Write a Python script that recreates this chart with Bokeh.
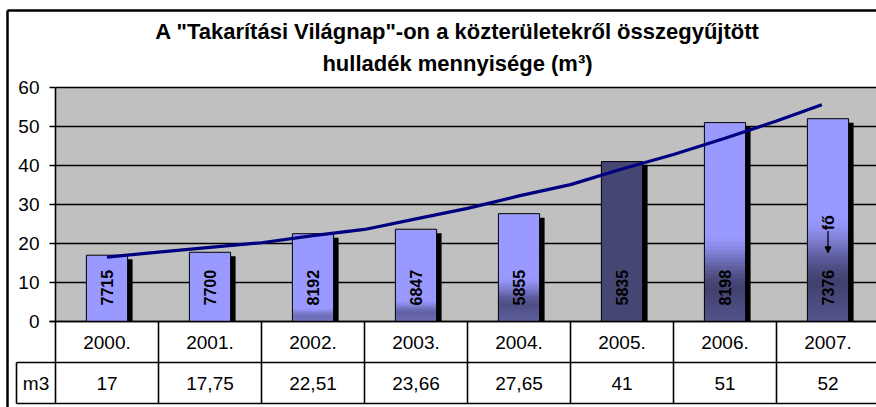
import numpy as np
from bokeh.plotting import figure
from bokeh.models import Range1d, Arrow, NormalHead
from bokeh.embed import file_html
from bokeh.resources import INLINE
from bokeh.core.properties import value

# ---------------- data ----------------
title_lines = ['A "Takarítási Világnap"-on a közterületekről összegyűjtött',
               'hulladék mennyisége (m³)']
years = ["2000.", "2001.", "2002.", "2003.", "2004.", "2005.", "2006.", "2007."]
m3 = [17, 17.75, 22.51, 23.66, 27.65, 41, 51, 52]
m3_labels = ["17", "17,75", "22,51", "23,66", "27,65", "41", "51", "52"]
people = ["7715", "7700", "8192", "6847", "5855", "5835", "8198", "7376"]
row_label = "m3"
y_ticks = [0, 10, 20, 30, 40, 50, 60]
y_tick_labels = ["0", "10", "20", "30", "40", "50", "60"]
# trend line (category index, m3)
trend_x = [0, 0.5, 1, 1.5, 2, 2.5, 3, 3.5, 4, 4.5, 5, 5.5, 6, 6.5, 6.94]
trend_y = [16.5, 17.8, 19.0, 20.2, 22.0, 23.6, 26.3, 29.0, 32.2, 35.1, 39.1, 42.8, 47.0, 51.4, 55.6]
note_text = "fő"
note_cat = 7
note_arrow_from = 23.2
note_arrow_to = 17.6

# ---------------- styles ----------------
W, H = 876, 407
OX, OY = 55, 321          # pixel position of (0, 0) of the chart area
PXX = 1 / 103.0           # category units per pixel
PXY = 1 / 3.9             # value units per pixel
x0 = -OX * PXX
x1 = (W - OX) * PXX
y0 = -(H - OY) * PXY
y1 = OY * PXY
row1_bottom = -41 * PXY
row2_bottom = -82 * PXY
left_cell = -39 * PXX
bar_w = 0.40
LAV = np.array([153, 153, 255])
DARK = np.array([66, 66, 112])
solid_2005 = "#464673"
grad_strength = [0, 0, 0.5, 0.65, 0.85, None, 1.0, 1.0]
grad_start = [0, 0, 0.16, 0.24, 0.42, 0, 0.45, 0.53]
FONT = value("Liberation Sans")
TXT = "19px"

p = figure(width=W, height=H, x_range=Range1d(x0, x1), y_range=Range1d(y0, y1),
           output_backend="svg", toolbar_location=None, min_border=0,
           x_axis_location=None, y_axis_location=None)
p.grid.grid_line_color = None
p.outline_line_color = None
p.background_fill_color = "white"
p.border_fill_color = "white"

n = len(years)
centers = [i + 0.5 for i in range(n)]

# plot area
p.quad(left=[0], right=[x1], bottom=[0], top=[60], fill_color="#C0C0C0", line_color=None)
# gridlines
p.segment(x0=[0] * len(y_ticks), x1=[x1] * len(y_ticks), y0=y_ticks, y1=y_ticks,
          line_color="black", line_width=1.6)
# ticks
p.segment(x0=[-6 * PXX] * len(y_ticks), x1=[0] * len(y_ticks), y0=y_ticks, y1=y_ticks,
          line_color="black", line_width=1.4)
p.text(x=[-16 * PXX] * len(y_ticks), y=y_ticks, text=y_tick_labels, text_font=FONT,
       text_font_size=TXT, text_align="right", text_baseline="middle", text_color="black")

# shadows
p.quad(left=[c - bar_w / 2 + 5 * PXX for c in centers],
       right=[c + bar_w / 2 + 5 * PXX for c in centers],
       bottom=[0] * n, top=[v - 4 * PXY for v in m3], fill_color="black", line_color=None)

# bars with gradient
L, R, B, T, C = [], [], [], [], []
N = 50
for i, (c, v) in enumerate(zip(centers, m3)):
    s = grad_strength[i]
    if s is None:
        L.append(c - bar_w / 2); R.append(c + bar_w / 2); B.append(0); T.append(v); C.append(solid_2005)
        continue
    st = grad_start[i]
    for k in range(N):
        t0, t1 = k / N, (k + 1) / N
        tm = (t0 + t1) / 2
        if s == 0 or tm >= st:
            d = 0.0
        else:
            peak = st * 0.35
            if tm >= peak:
                u = (st - tm) / (st - peak)
                d = u * u * (3 - 2 * u)
            else:
                d = 1 - 0.2 * (peak - tm) / peak
            d *= s
        col = LAV + (DARK - LAV) * d
        L.append(c - bar_w / 2); R.append(c + bar_w / 2)
        B.append(v * t0); T.append(min(v, v * t1 + 1.5 * PXY))
        C.append("#%02x%02x%02x" % tuple(int(round(x)) for x in col))
p.quad(left=L, right=R, bottom=B, top=T, fill_color=C, line_color=None)
p.quad(left=[c - bar_w / 2 for c in centers], right=[c + bar_w / 2 for c in centers],
       bottom=[0] * n, top=m3, fill_color=None, line_color="black", line_width=1)

# bar labels
p.text(x=centers, y=[4.1] * n, text=people, angle=np.pi / 2, text_font=FONT,
       text_font_style="bold", text_font_size="16px", text_align="left",
       text_baseline="middle", text_color="black")
p.text(x=[note_cat + 0.5], y=[note_arrow_from + 0.2], text=[note_text], angle=np.pi / 2,
       text_font=FONT, text_font_style="bold", text_font_size="16px", text_align="left",
       text_baseline="middle", text_color="black")
p.add_layout(Arrow(end=NormalHead(size=6, fill_color="black", line_color="black"),
                   x_start=note_cat + 0.5, y_start=note_arrow_from,
                   x_end=note_cat + 0.5, y_end=note_arrow_to,
                   line_color="black", line_width=1.3))

# trend line
p.line(x=[t + 0.5 for t in trend_x], y=trend_y, line_color="#000080", line_width=3.2)

# data table
p.segment(x0=[-6 * PXX, left_cell, left_cell], x1=[x1, x1, x1],
          y0=[0, row1_bottom, row2_bottom], y1=[0, row1_bottom, row2_bottom],
          line_color="black", line_width=1.6)
vx = list(range(n + 1))
p.segment(x0=vx, x1=vx, y0=[0] * len(vx), y1=[row2_bottom] * len(vx),
          line_color="black", line_width=1.6)
p.segment(x0=[0, left_cell], x1=[0, left_cell], y0=[60, row1_bottom], y1=[0, row2_bottom],
          line_color="black", line_width=1.6)
p.text(x=centers, y=[row1_bottom / 2] * n, text=years, text_font=FONT, text_font_size=TXT,
       text_align="center", text_baseline="middle", text_color="black")
p.text(x=centers, y=[(row1_bottom + row2_bottom) / 2] * n, text=m3_labels, text_font=FONT,
       text_font_size=TXT, text_align="center", text_baseline="middle", text_color="black")
p.text(x=[left_cell / 2], y=[(row1_bottom + row2_bottom) / 2], text=[row_label], text_font=FONT,
       text_font_size=TXT, text_align="center", text_baseline="middle", text_color="black")

# title
p.text(x=[(457 - OX) * PXX] * 2, y=[(OY - 31) * PXY, (OY - 63) * PXY], text=title_lines,
       text_font=FONT, text_font_style="bold", text_font_size="22px", text_align="center",
       text_baseline="middle", text_color="black")

# chart frame (left and top edges)
p.segment(x0=[(7 - OX) * PXX, (7 - OX) * PXX], x1=[(7 - OX) * PXX, x1],
          y0=[y0, (OY - 10) * PXY], y1=[(OY - 10) * PXY, (OY - 10) * PXY],
          line_color="black", line_width=2.5)

open("out.html", "w").write(file_html(p, INLINE))
